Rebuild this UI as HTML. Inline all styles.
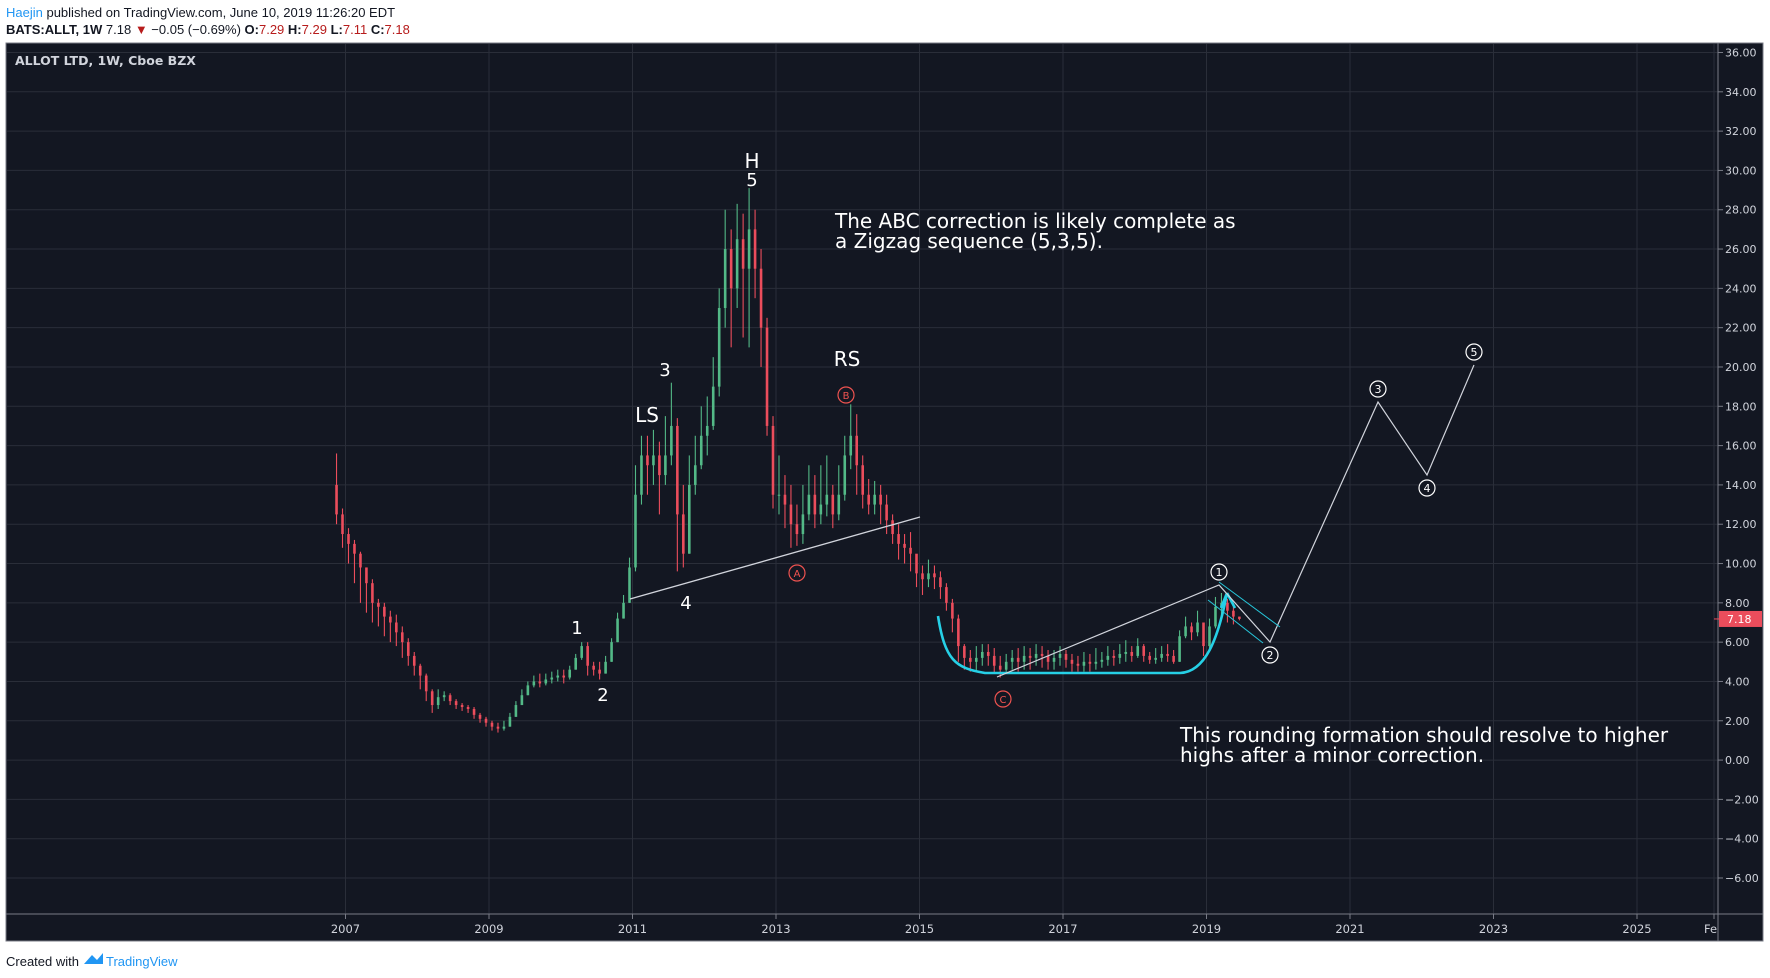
<!DOCTYPE html>
<html><head><meta charset="utf-8">
<style>
html,body{margin:0;padding:0;background:#fff;}
svg{display:block;font-family:"DejaVu Sans","Liberation Sans",sans-serif;}
</style></head>
<body>
<svg id="c" width="1770" height="978" viewBox="0 0 1770 978" xmlns="http://www.w3.org/2000/svg">
<rect x="0" y="0" width="1770" height="978" fill="#ffffff"/>
<text x="6" y="17" font-size="13" font-family="Liberation Sans, sans-serif" fill="#131722"><tspan fill="#2196f3">Haejin</tspan> published on TradingView.com, June 10, 2019 11:26:20 EDT</text>
<text x="6" y="34" font-size="13" font-family="Liberation Sans, sans-serif" fill="#131722"><tspan font-weight="bold">BATS:ALLT, 1W</tspan> 7.18 <tspan fill="#b71c1c">▼</tspan> −0.05 (−0.69%) <tspan font-weight="bold">O:</tspan><tspan fill="#b71c1c">7.29</tspan> <tspan font-weight="bold">H:</tspan><tspan fill="#b71c1c">7.29</tspan> <tspan font-weight="bold">L:</tspan><tspan fill="#b71c1c">7.11</tspan> <tspan font-weight="bold">C:</tspan><tspan fill="#b71c1c">7.18</tspan></text>
<rect x="6" y="43" width="1757" height="898" fill="#131722" stroke="#787b86" stroke-width="1"/>
<g id="grid"></g>
<g id="axes"></g>
<g id="candles"></g>
<text x="15" y="65" font-size="12.5" font-weight="bold" fill="#d1d4dc">ALLOT LTD, 1W, Cboe BZX</text>
<text x="6" y="966" font-size="13" font-family="Liberation Sans, sans-serif" fill="#131722">Created with</text>
<g>
<path d="M84 964 L92 955 L97 960 L103 953 L103 964 Z" fill="#2196f3"/>
<text x="106" y="966" font-size="13" font-family="Liberation Sans, sans-serif" fill="#2196f3">TradingView</text>
</g>
</svg>
<script>
const months0 = [2006, 10]; // start: Nov 2006
const closes = [12.5,11.5,
11,10.5,9.8,9,8,7.8,7.3,7,6.5,6,5.3,4.8,
4.3,3.5,2.8,3.2,3.3,3.0,2.8,2.7,2.6,2.3,2.1,1.9,
1.7,1.6,1.7,2.2,2.8,3.3,3.8,4.0,3.9,4.1,4.2,4.3,
4.2,4.6,5.2,5.8,4.8,4.6,4.4,5.0,6.0,7.2,8.0,9.8,
13.5,15.5,15,15.5,14.5,15.5,17,12.5,10.5,14,15,16.5,
17,19,23,26,24,26.5,25,27,25,22,17,13.5,
13.5,13,12,11.5,12.5,13.5,12.5,13,13.5,12.5,13.5,15.5,
16.5,15,13.5,13,13.5,13,12.2,11.5,11,10.8,10.5,9.5,
9.2,9.5,9.3,8.8,8,7.2,5.8,5.2,5.0,5.2,5.5,5.3,
4.8,4.6,5.0,5.2,5.0,5.3,5.2,5.4,5.3,5.0,5.2,5.4,
5.1,4.9,4.8,5.0,4.9,5.0,5.1,5.3,5.2,5.4,5.5,5.3,
5.8,5.3,5.1,5.2,5.4,5.3,5.0,6.3,6.8,6.5,7.0,5.8,
6.8,7.8,8.0,7.6,7.3,7.18];
const highs = [15.6,12.8,
11.8,11.2,10.6,9.8,9.2,8.2,8.0,7.6,7.4,6.8,6.2,5.5,
4.9,4.4,3.6,3.6,3.5,3.4,3.1,2.9,2.8,2.7,2.4,2.2,
2.0,1.9,2.0,2.4,3.0,3.6,4.0,4.3,4.4,4.4,4.5,4.6,
4.6,4.8,5.4,6.0,6.0,5.0,5.0,5.3,6.2,7.5,8.4,10.3,
15.0,16.5,16.5,16.8,16.2,17.5,19.2,17.4,14.0,15.5,16.5,18.0,
18.5,20.5,24.0,28.0,27.0,28.3,27.8,29.1,28.0,26.0,22.5,17.5,
15.5,14.5,14.0,13.0,14.0,15.0,14.5,15.0,15.5,14.0,15.0,16.5,
18.1,17.6,15.5,14.3,14.2,14.0,13.5,12.5,12.0,11.5,11.6,10.2,
9.9,10.2,9.9,9.6,9.0,8.2,7.4,5.9,5.6,5.8,5.9,5.9,
5.7,5.3,5.4,5.6,5.7,5.8,5.7,5.9,5.8,5.6,5.6,5.8,
5.6,5.4,5.3,5.5,5.4,5.7,5.5,5.8,5.6,5.9,6.1,5.8,
6.2,5.9,5.5,5.7,5.8,5.9,5.6,6.6,7.3,7.0,7.6,7.0,
7.2,8.3,8.5,8.2,7.9,7.29];
const lows = [12.0,10.8,
10.0,9.0,8.0,7.5,7.0,6.8,6.3,6.0,5.8,5.2,4.8,4.3,
3.6,3.0,2.4,2.6,3.0,2.8,2.6,2.5,2.4,2.1,1.9,1.7,
1.5,1.4,1.5,1.7,2.2,2.8,3.3,3.7,3.7,3.8,3.9,4.0,
3.9,4.1,4.6,5.1,4.3,4.3,4.1,4.4,5.0,6.0,7.2,8.0,
9.6,13.0,13.5,14.0,12.5,14.0,15.0,9.6,9.8,10.5,13.5,14.8,
15.5,16.8,18.5,22.0,21.0,23.0,21.5,21.0,23.5,20.0,16.5,12.8,
12.5,11.8,10.8,10.9,11.0,12.2,11.8,12.0,12.4,11.8,12.2,13.2,
14.8,13.5,12.8,12.5,12.5,12.0,11.5,11.0,10.2,10.0,9.6,8.8,
8.4,8.8,8.7,8.2,7.6,6.5,5.0,4.6,4.5,4.5,4.8,4.8,
4.4,4.2,4.5,4.6,4.5,4.6,4.6,4.8,4.7,4.6,4.6,4.8,
4.7,4.5,4.5,4.5,4.5,4.6,4.7,4.8,4.8,4.9,5.0,5.0,
5.2,5.0,4.9,4.9,5.0,5.0,4.9,5.0,6.2,6.1,6.3,5.3,
5.6,6.7,7.2,7.0,6.9,7.11];
const firstOpen = 14.0;
const priceTicks = [36,34,32,30,28,26,24,22,20,18,16,14,12,10,8,6,4,2,0,-2,-4,-6];
const yearTicks = [2007,2009,2011,2013,2015,2017,2019,2021,2023,2025];
const lastPrice = 7.18;

const NS = "http://www.w3.org/2000/svg";
const yOf = v => 52.5 + (36 - v) * 19.655;
const xOf = t => 345.5 + (t - 2007) * 71.75;
function mk(tag, attrs, parent, txt){
  const e = document.createElementNS(NS, tag);
  for (const k in attrs) e.setAttribute(k, attrs[k]);
  if (txt !== undefined) e.textContent = txt;
  parent.appendChild(e); return e;
}
const grid = document.getElementById('grid');
const axes = document.getElementById('axes');
const PL = 7, PR = 1718, PT = 44, PB = 914;

priceTicks.forEach(v => {
  const y = yOf(v);
  const l = mk('line', {x1:PL, x2:PR, y1:y, y2:y, stroke:'#2a2e39', 'stroke-width':1}, grid);
  
  
  mk('line', {x1:PR, x2:PR+5, y1:y, y2:y, stroke:'#787b86'}, axes);
  const t = mk('text', {x:1725, y:y+4, 'font-size':11, fill:'#d1d4dc'}, axes, v < 0 ? '−' + Math.abs(v).toFixed(2) : v.toFixed(2));
  
  
});
yearTicks.forEach(yr => {
  const x = xOf(yr);
  const l = mk('line', {x1:x, x2:x, y1:PT, y2:PB, stroke:'#2a2e39', 'stroke-width':1}, grid);
  
  
  mk('line', {x1:x, x2:x, y1:PB, y2:PB+5, stroke:'#787b86'}, axes);
  const t = mk('text', {x:x, y:933, 'font-size':11.5, fill:'#d1d4dc', 'text-anchor':'middle'}, axes, String(yr));
  
  
});
mk('line', {x1:1714, x2:1714, y1:PT, y2:PB, stroke:'#2a2e39'}, grid);
mk('line', {x1:1714, x2:1714, y1:PB, y2:PB+5, stroke:'#787b86'}, axes);
const fe = mk('text', {x:1704, y:933, 'font-size':11.5, fill:'#d1d4dc'}, axes, 'Fe');


const ya = mk('line', {x1:PR, x2:PR, y1:43, y2:941, stroke:'#787b86'}, axes);


const xa = mk('line', {x1:6, x2:1763, y1:PB, y2:PB, stroke:'#787b86'}, axes);



const cg = document.getElementById('candles');
closes.forEach((c, i) => {
  const o = i === 0 ? firstOpen : closes[i-1];
  const t = months0[0] + (months0[1] + i + 0.5) / 12;
  const x = xOf(t);
  const up = c >= o;
  const col = up ? '#53b987' : '#eb4d5c';
  const g = mk('g', {}, cg);
  
  
  mk('line', {x1:x, x2:x, y1:yOf(highs[i]), y2:yOf(lows[i]), stroke:col, 'stroke-width':1.1}, g);
  const y1 = yOf(Math.max(o, c)), y2 = yOf(Math.min(o, c));
  mk('rect', {x:x-1.3, y:y1, width:2.6, height:Math.max(1, y2-y1), fill:col}, g);
});
const ly = yOf(lastPrice);
const lp = mk('rect', {x:1719, y:ly-8, width:43, height:16, fill:'#eb4d5c'}, axes);


mk('text', {x:1727, y:ly+4, 'font-size':11, fill:'#fff'}, axes, lastPrice.toFixed(2));
mk('line', {x1:1714, x2:1719, y1:ly, y2:ly, stroke:'#eb4d5c'}, axes);
</script>
<svg x="0" y="0" width="1770" height="978" style="position:absolute;left:0;top:0">
<g font-family="DejaVu Sans, Liberation Sans, sans-serif" fill="#ffffff">
<text x="752" y="168" font-size="20" text-anchor="middle">H</text>
<text x="752" y="186" font-size="18" text-anchor="middle">5</text>
<text x="665" y="376" font-size="18" text-anchor="middle">3</text>
<text x="647" y="422" font-size="20" text-anchor="middle">LS</text>
<text x="686" y="609" font-size="18" text-anchor="middle">4</text>
<text x="847" y="366" font-size="20" text-anchor="middle">RS</text>
<text x="577" y="634" font-size="18" text-anchor="middle">1</text>
<text x="603" y="701" font-size="18" text-anchor="middle">2</text>
<text x="835" y="228" font-size="20">The ABC correction is likely complete as</text>
<text x="835" y="248" font-size="20">a Zigzag sequence (5,3,5).</text>
<text x="1180" y="742" font-size="20">This rounding formation should resolve to higher</text>
<text x="1180" y="762" font-size="20">highs after a minor correction.</text>
</g>
<line x1="630" y1="599" x2="920" y2="517" stroke="#d1d4dc" stroke-width="1.3"/>
<g fill="none" stroke="#ef5350" stroke-width="1.2" font-family="DejaVu Sans, sans-serif" font-size="10">
<circle cx="846" cy="395" r="8"/>
<text x="846" y="399" fill="#ef5350" stroke="none" text-anchor="middle">B</text>
<circle cx="797" cy="573" r="8"/>
<text x="797" y="577" fill="#ef5350" stroke="none" text-anchor="middle">A</text>
<circle cx="1003" cy="699" r="8"/>
<text x="1003" y="703" fill="#ef5350" stroke="none" text-anchor="middle">C</text>
</g>
<path d="M938 616 C945 660 955 668 985 673 L1180 673 C1205 672 1218 640 1227 593 M1227 593 L1235 608 M1227 593 L1221 608" fill="none" stroke="#26d0e6" stroke-width="2.6"/>
<polyline points="997,677 1219,585 1270,642 1378,402 1427,475 1474,365" fill="none" stroke="#d1d4dc" stroke-width="1.2"/>
<line x1="1219" y1="582" x2="1280" y2="627" stroke="#26c6da" stroke-width="1"/>
<line x1="1208" y1="600" x2="1263" y2="643" stroke="#26c6da" stroke-width="1"/>
<g fill="#131722" stroke="#ffffff" stroke-width="1.2" font-family="DejaVu Sans, sans-serif" font-size="11">
<circle cx="1219" cy="572" r="8"/>
<text x="1219" y="576" fill="#fff" stroke="none" text-anchor="middle">1</text>
<circle cx="1270" cy="655" r="8"/>
<text x="1270" y="659" fill="#fff" stroke="none" text-anchor="middle">2</text>
<circle cx="1378" cy="389" r="8"/>
<text x="1378" y="393" fill="#fff" stroke="none" text-anchor="middle">3</text>
<circle cx="1427" cy="488" r="8"/>
<text x="1427" y="492" fill="#fff" stroke="none" text-anchor="middle">4</text>
<circle cx="1474" cy="352" r="8"/>
<text x="1474" y="356" fill="#fff" stroke="none" text-anchor="middle">5</text>
</g>
</svg>
</body></html>
